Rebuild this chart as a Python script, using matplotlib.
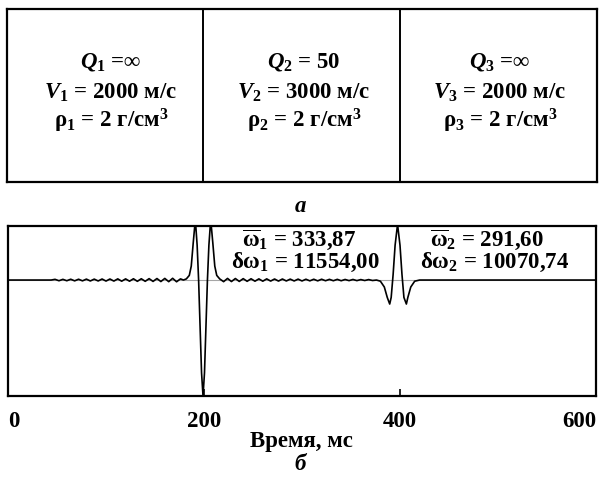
import numpy as np
import matplotlib
matplotlib.use("Agg")
from matplotlib import pyplot as plt

plt.rcParams['font.family'] = ['Liberation Serif', 'DejaVu Serif']
plt.rcParams['font.weight'] = 'bold'
plt.rcParams['mathtext.fontset'] = 'custom'
plt.rcParams['mathtext.rm'] = 'Liberation Serif:bold'
plt.rcParams['mathtext.it'] = 'Liberation Serif:bold:italic'
plt.rcParams['mathtext.bf'] = 'Liberation Serif:bold'
plt.rcParams['mathtext.sf'] = 'Liberation Serif'

# layer parameters (top panel)
layer_Q = [r"$Q_1$ =∞", r"$Q_2$ = 50", r"$Q_3$ =∞"]
layer_V = [r"$V_1$ = 2000 м/с", r"$V_2$ = 3000 м/с", r"$V_3$ = 2000 м/с"]
layer_rho = [r"$\mathsf{\rho}_\mathsf{1}$ = 2 г/см$^3$",
             r"$\mathsf{\rho}_\mathsf{2}$ = 2 г/см$^3$",
             r"$\mathsf{\rho}_\mathsf{3}$ = 2 г/см$^3$"]

# seismic trace, time in ms, amplitude normalised to the trough
ripple1_t = [44, 48, 52, 56, 60, 64, 68, 72, 76, 80, 84, 88, 92, 96, 100, 104,
             108, 112, 116, 120, 124, 128, 132, 136, 140, 144, 148, 152, 156,
             160, 164, 168, 172, 176]
ripple1_a = [0.0, 0.006, -0.006, 0.006, -0.006, 0.007, -0.007, 0.007, -0.007,
             0.008, -0.008, 0.008, -0.008, 0.009, -0.009, 0.009, -0.009, 0.010,
             -0.010, 0.010, -0.010, 0.011, -0.011, 0.011, -0.011, 0.012, -0.012,
             0.013, -0.013, 0.014, -0.014, 0.015, -0.015, 0.010]
event1_t = [179, 182, 185, 187, 189, 190.5, 191.5, 193, 194.5, 196, 197.5, 199,
            200.5, 202, 203.5, 205, 206.5, 207.5, 209, 211, 213, 216]
event1_a = [0.0, 0.01, 0.04, 0.12, 0.32, 0.46, 0.48, 0.30, 0.0, -0.40, -0.80,
            -1.0, -0.80, -0.40, 0.0, 0.30, 0.48, 0.46, 0.32, 0.12, 0.04, 0.01]
ripple2_t = [220, 224, 228, 232, 236, 240, 244, 248, 252, 256, 260, 264, 268,
             272, 276, 280, 284, 288, 292, 296, 300, 304, 308, 312, 316, 320,
             324, 328, 332, 336, 340, 344, 348, 352, 356, 360, 364, 368, 372, 376]
ripple2_a = [-0.014, 0.014, -0.013, 0.013, -0.012, 0.012, -0.011, 0.011, -0.010,
             0.010, -0.010, 0.010, -0.009, 0.009, -0.009, 0.009, -0.008, 0.008,
             -0.008, 0.008, -0.008, 0.007, -0.007, 0.007, -0.007, 0.007, -0.006,
             0.006, -0.006, 0.006, -0.006, 0.005, -0.005, 0.005, -0.005, 0.004,
             -0.004, 0.004, -0.004, 0.0]
event2_t = [380, 384, 387, 389.5, 391, 393, 395, 397.5, 400, 402, 404, 406.5,
            408, 411, 415, 420, 600]
event2_a = [-0.01, -0.06, -0.15, -0.207, -0.15, 0.05, 0.30, 0.48, 0.30, 0.05,
            -0.15, -0.207, -0.15, -0.06, -0.01, 0.0, 0.0]

t = [0] + ripple1_t + event1_t + ripple2_t + event2_t
a = [0.0] + ripple1_a + event1_a + ripple2_a + event2_a

omega_txt = [r"$\overline{\mathsf{\omega}}_\mathsf{1}$ = 333,87",
             r"$\overline{\mathsf{\omega}}_\mathsf{2}$ = 291,60"]
domega_txt = [r"$\mathsf{\delta\omega}_\mathsf{1}$ = 11554,00",
              r"$\mathsf{\delta\omega}_\mathsf{2}$ = 10070,74"]
xticks = [0, 200, 400, 600]

W, H = 601, 482
fs = 16.5
fig = plt.figure(figsize=(W / 100, H / 100), dpi=100)

# ---- top panel: three layers
ax1 = fig.add_axes([7 / W, 1 - 182 / H, 590 / W, 173 / H])
ax1.set_xlim(0, 3)
ax1.set_ylim(0, 1)
ax1.set_xticks([])
ax1.set_yticks([])
for s in ax1.spines.values():
    s.set_linewidth(1.6)
for xv in [196 / 590, 393 / 590]:
    ax1.axvline(xv * 3, color='black', lw=1.4)
cx = [(111 - 7) / 590 * 3, (304 - 7) / 590 * 3, (500 - 7) / 590 * 3]
for i in range(3):
    ax1.text(cx[i], 1 - (62 - 9) / 173, layer_Q[i], ha='center', va='center', fontsize=fs)
    ax1.text(cx[i], 1 - (93 - 9) / 173, layer_V[i], ha='center', va='center', fontsize=fs)
    ax1.text(cx[i], 1 - (121 - 9) / 173, layer_rho[i], ha='center', va='center', fontsize=fs)

fig.text(300 / W, 1 - 207 / H, "а", ha='center', va='center', fontsize=fs, style='italic')

# ---- bottom panel: trace
ax2 = fig.add_axes([8 / W, 1 - 396 / H, 588 / W, 170 / H])
ax2.axhline(0, color='0.65', lw=0.8)
ax2.plot(t, a, color='black', lw=1.2)
ax2.set_xlim(0, 600)
ax2.set_ylim(-1.0, 0.466)
ax2.set_yticks([])
ax2.set_xticks(xticks)
labs = ax2.set_xticklabels([str(v) for v in xticks], fontsize=fs)
labs[0].set_ha('left')
labs[-1].set_ha('right')
ax2.tick_params(axis='x', direction='in', length=5, width=1.2, pad=11)
for s in ax2.spines.values():
    s.set_linewidth(1.6)
fig.text(301 / W, 1 - 441 / H, "Время, мс", ha='center', va='center', fontsize=fs)

ax2.text(297, 0.345, omega_txt[0], ha='center', va='center', fontsize=fs)
ax2.text(303, 0.155, domega_txt[0], ha='center', va='center', fontsize=fs)
ax2.text(489, 0.345, omega_txt[1], ha='center', va='center', fontsize=fs)
ax2.text(496, 0.155, domega_txt[1], ha='center', va='center', fontsize=fs)

fig.text(300 / W, 1 - 465 / H, "б", ha='center', va='center', fontsize=fs, style='italic')

fig.savefig("out.png", dpi=100)
